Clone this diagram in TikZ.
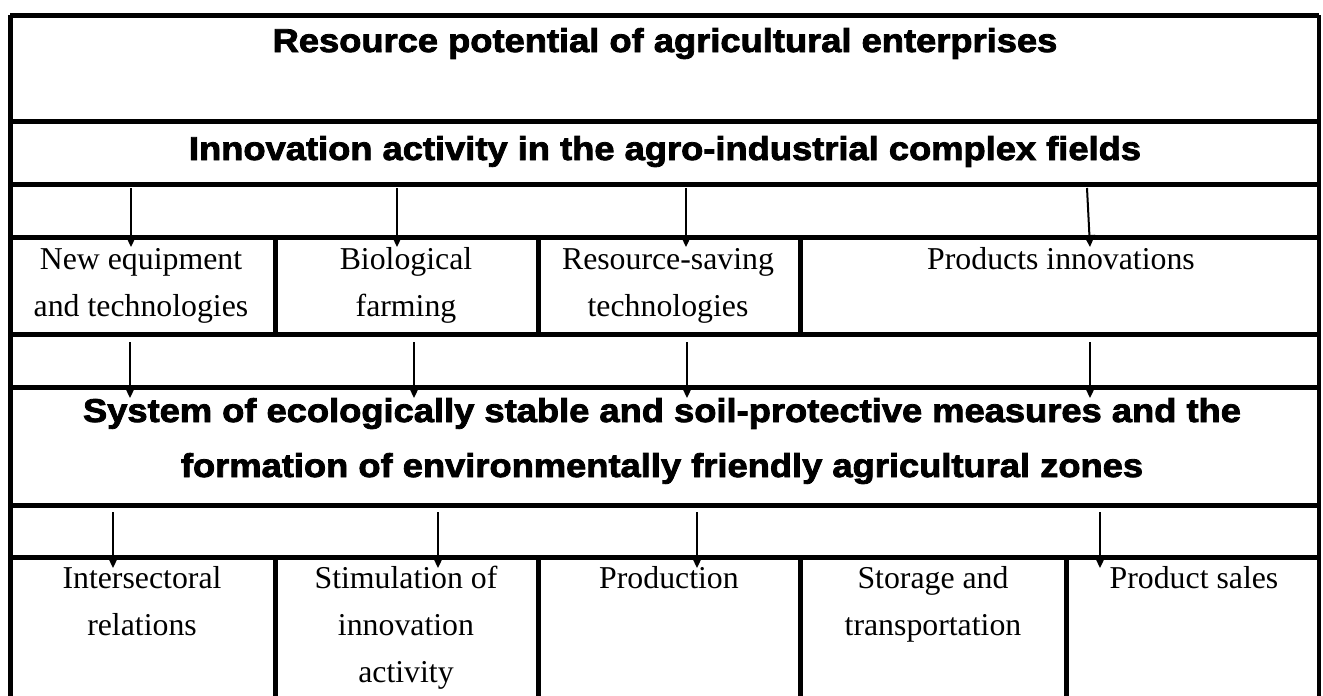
\documentclass[tikz,border=0pt]{standalone}
\usepackage{fontspec}
\setmainfont{Liberation Serif}
\newfontfamily\headfont[UprightFont={* Bold}, FakeStretch=1.1, FakeBold=2.5]{Liberation Sans}
\usetikzlibrary{%
    arrows.meta,
    calc,
    positioning
}

\begin{document}
\begin{tikzpicture}[x=0.5pt, y=-0.5pt,
        frame/.style={line width=2.5pt},
        head/.style={font=\headfont\fontsize{16.5}{27.5}\selectfont,
                     align=center, inner sep=0pt, anchor=base},
        cell/.style={font=\fontsize{15.9}{23.5}\selectfont,
                     align=center, inner sep=0pt, anchor=base},
        flow/.style={-{Triangle[length=6pt,width=5.5pt]}, line width=1pt},
    ]
    \useasboundingbox (0,0) rectangle (1323,696);

    % outer frame and row lines
    \draw[frame] (10,15) -- (10,696);
    \draw[line width=2pt] (1319,15) -- (1319,696);
    \foreach \Y in {15,121,184,237,334,387,505,557}
        \draw[frame] (10,\Y) -- (1319,\Y);

    % column dividers
    \foreach \X in {275,538,800}
        \draw[frame] (\X,237) -- (\X,334);
    \foreach \X in {275,538,800,1066}
        \draw[frame] (\X,557) -- (\X,696);

    % headings (anchor base = last line)
    \node[head] (potential)  at (665,52)  {Resource potential of agricultural enterprises};
    \node[head] (innovation) at (665,160) {Innovation activity in the agro-industrial complex fields};
    \node[head] (measures)   at (662,477) {System of ecologically stable and soil-protective measures and the\\
                                           formation of environmentally friendly agricultural zones};

    % directions of innovation
    \node[cell] (equipment)  at (141,316)  {New equipment\\and technologies};
    \node[cell] (biological) at (406,316)  {Biological\\farming};
    \node[cell] (saving)     at (668,316)  {Resource-saving\\technologies};
    \node[cell] (products)   at (1061,269) {Products innovations};

    % spheres of the agro-industrial complex
    \node[cell] (relations)   at (142,635)  {Intersectoral\\relations};
    \node[cell] (stimulation) at (406,682)  {Stimulation of\\innovation\\activity};
    \node[cell] (production)  at (669,588)  {Production};
    \node[cell] (storage)     at (933,635)  {Storage and\\transportation};
    \node[cell] (sales)       at (1194,588) {Product sales};

    % arrows between the rows
    \foreach \Name/\Xs/\Xe/\Ys/\Ye in {%
        a1/131/131/188/247, a2/397/397/188/247, a3/686/686/188/247, a4/1087/1090/188/247,%
        b1/130/130/342/398, b2/414/414/342/398, b3/687/687/342/398, b4/1090/1090/342/398,%
        c1/113/113/512/568, c2/438/438/512/568, c3/697/697/512/568, c4/1100/1100/512/568%
        }
    {
        \coordinate (\Name-from) at (\Xs,\Ys);
        \coordinate (\Name-to)   at (\Xe,\Ye);
        \draw[flow] (\Name-from) -- (\Name-to);
    }
\end{tikzpicture}
\end{document}
